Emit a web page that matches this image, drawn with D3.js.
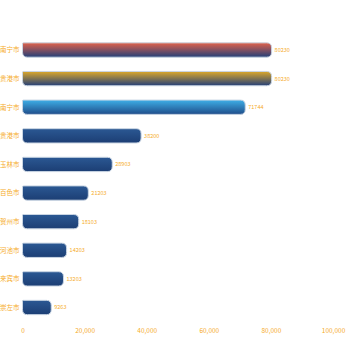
<!DOCTYPE html>
<html>
<head>
<meta charset="utf-8">
<script src="https://cdn.jsdelivr.net/npm/d3@7/dist/d3.min.js"></script>
<style>
  html, body { margin: 0; padding: 0; background: #ffffff; }
  svg { display: block; }
</style>
</head>
<body>
<svg id="chart" width="350" height="350"></svg>
<script>
// City ranking data
const cities = ["南宁市", "贵港市", "南宁市", "贵港市", "玉林市", "百色市", "贺州市", "河池市", "来宾市", "崇左市"];
const values = [80230, 80230, 71744, 38200, 28903, 21203, 18103, 14203, 13203, 9263];
const xTicks = [0, 20000, 40000, 60000, 80000, 100000];

// Gradient top colours for the leading three bars; the rest share the dark blue
const topColors = ["#e0614a", "#dca82a", "#3eaee6"];
const bottomColors = ["#233f78", "#243f78", "#1f4d8a"];
const plainTop = "#2b5893";
const plainBottom = "#1c3e74";

const svg = d3.select("#chart");
const x = d3.scaleLinear().domain([0, 100000]).range([22.5, 333]);
const y = d3.scaleBand().domain(d3.range(cities.length)).range([35.7, 321.8]).paddingInner(0.5).paddingOuter(0.25);

const defs = svg.append("defs");
cities.forEach((c, i) => {
  const g = defs.append("linearGradient")
    .attr("id", "grad" + i)
    .attr("x1", 0).attr("y1", 0).attr("x2", 0).attr("y2", 1);
  g.append("stop").attr("offset", "0%").attr("stop-color", i < 3 ? topColors[i] : plainTop);
  g.append("stop").attr("offset", "100%").attr("stop-color", i < 3 ? bottomColors[i] : plainBottom);
});

function barPath(x0, y0, w, h) {
  const r = Math.min(5, w / 2, h / 2);
  const rtl = 1;
  return `M${x0 + rtl},${y0}` +
    `H${x0 + w - r}` +
    `Q${x0 + w},${y0} ${x0 + w},${y0 + r}` +
    `V${y0 + h - r}` +
    `Q${x0 + w},${y0 + h} ${x0 + w - r},${y0 + h}` +
    `H${x0 + r}` +
    `Q${x0},${y0 + h} ${x0},${y0 + h - r}` +
    `V${y0 + rtl}` +
    `Q${x0},${y0} ${x0 + rtl},${y0}Z`;
}

const labelColor = "#f6ac2a";
const font = "'Noto Sans CJK SC', 'Noto Sans', sans-serif";

// Bars
const rows = svg.append("g").selectAll("g").data(values).join("g");
rows.append("path")
  .attr("d", (d, i) => barPath(x(0), y(i), x(d) - x(0), y.bandwidth()))
  .attr("fill", (d, i) => `url(#grad${i})`)
  .attr("stroke", "#c9d5e3")
  .attr("stroke-width", 1);

// Value labels
rows.append("text")
  .attr("x", d => x(d) + 3)
  .attr("y", (d, i) => y(i) + y.bandwidth() / 2)
  .attr("dy", "0.35em")
  .attr("fill", labelColor)
  .attr("font-family", font)
  .attr("font-size", 5.5)
  .text(d => d);

// Category labels
svg.append("g").selectAll("text").data(cities).join("text")
  .attr("x", 19.5)
  .attr("y", (d, i) => y(i) + y.bandwidth() / 2)
  .attr("dy", "0.35em")
  .attr("text-anchor", "end")
  .attr("fill", labelColor)
  .attr("font-family", font)
  .attr("font-size", 6.5)
  .text(d => d);

// Value axis
const axis = svg.append("g")
  .attr("transform", "translate(0,322)")
  .call(d3.axisBottom(x).tickValues(xTicks).tickFormat(d3.format(",")).tickSize(0).tickPadding(6));
axis.select(".domain").remove();
axis.selectAll("text")
  .attr("fill", labelColor)
  .attr("font-family", font)
  .attr("font-size", 6.5);
</script>
</body>
</html>
